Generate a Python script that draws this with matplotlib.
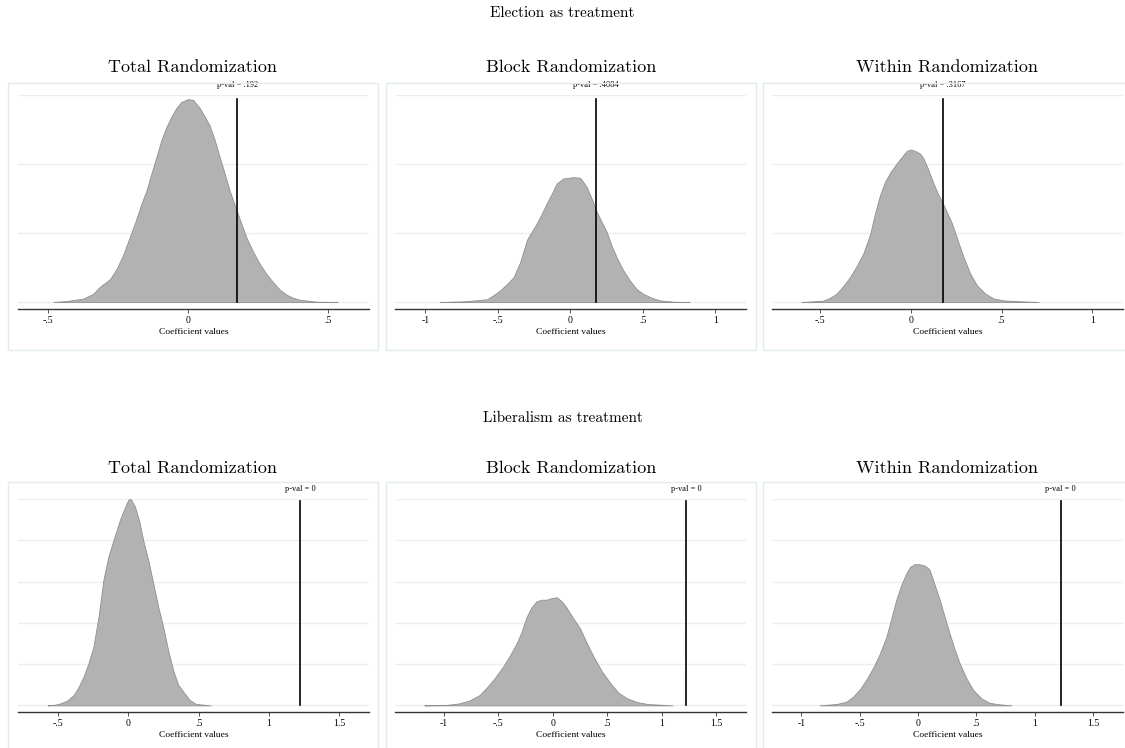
import matplotlib.pyplot as plt
from matplotlib.patches import Rectangle

# --- data ---------------------------------------------------------------
panel_titles = ['Total Randomization', 'Block Randomization', 'Within Randomization']
row_titles = ['Election as treatment', 'Liberalism as treatment']

# density of permuted coefficients: Election as treatment
elec_total_x = [-0.481, -0.434, -0.374, -0.338, -0.315, -0.279, -0.255, -0.232, -0.208, -0.184, -0.166,
                -0.148, -0.131, -0.113, -0.095, -0.077, -0.059, -0.042, -0.024, 0.0, 0.018, 0.042,
                0.059, 0.077, 0.095, 0.113, 0.131, 0.148, 0.175, 0.190, 0.208, 0.232, 0.255, 0.279,
                0.303, 0.327, 0.350, 0.374, 0.398, 0.457, 0.534]
elec_total_y = [0.0, 0.015, 0.05, 0.12, 0.22, 0.33, 0.48, 0.68, 0.94, 1.21, 1.43,
                1.62, 1.86, 2.10, 2.35, 2.54, 2.69, 2.81, 2.90, 2.94, 2.93, 2.81,
                2.69, 2.56, 2.35, 2.10, 1.86, 1.62, 1.31, 1.14, 0.94, 0.73, 0.56, 0.41,
                0.29, 0.18, 0.11, 0.063, 0.034, 0.005, 0.0]

elec_block_x = [-0.901, -0.736, -0.576, -0.530, -0.484, -0.438, -0.392, -0.346, -0.300, -0.266, -0.232,
                -0.197, -0.163, -0.128, -0.094, -0.048, -0.014, 0.021, 0.067, 0.089, 0.112, 0.147,
                0.177, 0.216, 0.250, 0.284, 0.319, 0.365, 0.411, 0.456, 0.502, 0.560, 0.617, 0.709, 0.823]
elec_block_y = [0.0, 0.01, 0.04, 0.10, 0.17, 0.26, 0.36, 0.58, 0.90, 1.02, 1.14,
                1.28, 1.43, 1.57, 1.72, 1.79, 1.80, 1.81, 1.80, 1.74, 1.67, 1.50,
                1.33, 1.16, 1.02, 0.82, 0.65, 0.46, 0.31, 0.19, 0.12, 0.063, 0.024, 0.005, 0.0]

elec_within_x = [-0.602, -0.538, -0.482, -0.446, -0.409, -0.372, -0.335, -0.298, -0.262, -0.225, -0.197,
                 -0.169, -0.142, -0.110, -0.077, -0.050, -0.022, 0.0, 0.024, 0.052, 0.070, 0.098,
                 0.125, 0.153, 0.177, 0.203, 0.227, 0.258, 0.291, 0.328, 0.365, 0.411, 0.457, 0.512,
                 0.567, 0.705]
elec_within_y = [0.0, 0.01, 0.02, 0.06, 0.12, 0.23, 0.36, 0.52, 0.70, 0.97, 1.28,
                 1.55, 1.74, 1.89, 2.01, 2.10, 2.19, 2.21, 2.19, 2.15, 2.08, 1.91,
                 1.72, 1.55, 1.43, 1.28, 1.14, 0.90, 0.65, 0.41, 0.24, 0.12, 0.05, 0.024,
                 0.015, 0.0]

# density of permuted coefficients: Liberalism as treatment
lib_total_x = [-0.573, -0.519, -0.483, -0.436, -0.389, -0.354, -0.318, -0.283, -0.248, -0.212, -0.177,
               -0.142, -0.106, -0.083, -0.059, -0.031, 0.0, 0.017, 0.047, 0.078, 0.106, 0.142,
               0.177, 0.212, 0.248, 0.283, 0.318, 0.354, 0.389, 0.436, 0.483, 0.585]
lib_total_y = [0.0, 0.008, 0.024, 0.057, 0.125, 0.22, 0.35, 0.51, 0.71, 1.07, 1.52,
               1.80, 2.00, 2.12, 2.25, 2.37, 2.49, 2.50, 2.41, 2.23, 2.00, 1.76,
               1.48, 1.20, 0.95, 0.67, 0.43, 0.25, 0.17, 0.065, 0.016, 0.0]

lib_block_x = [-1.178, -0.978, -0.855, -0.763, -0.671, -0.609, -0.532, -0.455, -0.394, -0.332, -0.286,
               -0.240, -0.194, -0.148, -0.102, -0.055, -0.009, 0.037, 0.083, 0.129, 0.191, 0.252,
               0.314, 0.375, 0.452, 0.529, 0.606, 0.683, 0.775, 0.868, 1.098]
lib_block_y = [0.0, 0.004, 0.024, 0.06, 0.125, 0.21, 0.33, 0.47, 0.60, 0.75, 0.89,
               1.07, 1.19, 1.26, 1.28, 1.28, 1.30, 1.31, 1.26, 1.18, 1.05, 0.93,
               0.75, 0.59, 0.41, 0.27, 0.15, 0.085, 0.04, 0.016, 0.0]

lib_within_x = [-0.843, -0.700, -0.614, -0.557, -0.500, -0.443, -0.386, -0.329, -0.271, -0.229, -0.186,
                -0.143, -0.100, -0.066, -0.029, 0.009, 0.043, 0.071, 0.100, 0.143, 0.186, 0.229,
                0.271, 0.314, 0.357, 0.414, 0.471, 0.543, 0.614, 0.700, 0.800]
lib_within_y = [0.0, 0.016, 0.044, 0.105, 0.19, 0.31, 0.45, 0.62, 0.83, 1.05, 1.28,
                1.46, 1.60, 1.68, 1.71, 1.71, 1.70, 1.68, 1.64, 1.46, 1.28, 1.07,
                0.87, 0.68, 0.51, 0.33, 0.19, 0.085, 0.03, 0.012, 0.0]

# observed coefficients and p-values
elec_obs = [0.176, 0.177, 0.176]
elec_pvals = ['p-val = .192', 'p-val = .4084', 'p-val = .3167']
lib_obs = [1.222, 1.223, 1.223]
lib_pvals = ['p-val = 0', 'p-val = 0', 'p-val = 0']

# x ticks
elec_ticks = [[-0.5, 0, 0.5], [-1, -0.5, 0, 0.5, 1], [-0.5, 0, 0.5, 1]]
elec_ticklabels = [['-.5', '0', '.5'], ['-1', '-.5', '0', '.5', '1'], ['-.5', '0', '.5', '1']]
lib_ticks = [[-0.5, 0, 0.5, 1, 1.5], [-1, -0.5, 0, 0.5, 1, 1.5], [-1, -0.5, 0, 0.5, 1, 1.5]]
lib_ticklabels = [['-.5', '0', '.5', '1', '1.5'], ['-1', '-.5', '0', '.5', '1', '1.5'],
                  ['-1', '-.5', '0', '.5', '1', '1.5']]

# y grid lines
elec_grid = [0, 1, 2, 3]
lib_grid = [0, 0.5, 1, 1.5, 2, 2.5]

# --- figure ---------------------------------------------------------------
W, H = 1125, 748
fig = plt.figure(figsize=(W / 100, H / 100), dpi=100)

serif = 'Liberation Serif'
grid_col = '#e8f0f2'
box_col = '#e2ebee'


def px_axes(x0, x1, ytop, ybot):
    return fig.add_axes([x0 / W, 1 - ybot / H, (x1 - x0) / W, (ybot - ytop) / H])


def draw_panel(ax, xs, ys, obs, pval, ticks, labels, xlim, grid, ymin, line_top):
    for g in grid:
        ax.axhline(g, color=grid_col, lw=1.0, zorder=0)
    ax.fill_between(xs, 0, ys, facecolor='#b2b2b2', edgecolor='#8f8f8f', lw=0.6, zorder=2)
    ax.plot([obs, obs], [0, line_top], color='black', lw=1.2, zorder=3)
    ax.text(obs, grid[-1] + (grid[-1] - ymin) * 0.03, pval, ha='center', va='bottom',
            fontsize=6, family=serif, clip_on=False)
    ax.set_xlim(xlim)
    ax.set_ylim(ymin, grid[-1])
    ax.set_xticks(ticks)
    ax.set_xticklabels(labels, family=serif, fontsize=7)
    ax.set_yticks([])
    ax.set_xlabel('Coefficient values', family=serif, fontsize=6.8, labelpad=2.5)
    for s in ['top', 'right', 'left']:
        ax.spines[s].set_visible(False)
    ax.spines['bottom'].set_color('#333333')
    ax.spines['bottom'].set_linewidth(1.0)
    ax.tick_params(axis='x', length=3, width=0.6, color='#333333', pad=2)
    ax.patch.set_alpha(0)


cols = [(18, 369), (395, 745.7), (772, 1123)]
boxes_x = [(8, 378), (386, 756), (763, 1130)]

# row 1: Election
elec_data = [(elec_total_x, elec_total_y), (elec_block_x, elec_block_y), (elec_within_x, elec_within_y)]
elec_xlim = [(-0.607, 0.646), (-1.21, 1.21), (-0.764, 1.169)]
for i in range(3):
    bx0, bx1 = boxes_x[i]
    fig.patches.append(Rectangle((bx0 / W, 1 - 350 / H), (bx1 - bx0) / W, (350 - 83) / H,
                                 transform=fig.transFigure, fill=False, edgecolor=box_col, lw=1.0))
    ax = px_axes(cols[i][0], cols[i][1], 95, 309)
    draw_panel(ax, elec_data[i][0], elec_data[i][1], elec_obs[i], elec_pvals[i],
               elec_ticks[i], elec_ticklabels[i], elec_xlim[i], elec_grid, -0.101, 2.94)
    fig.text((bx0 + bx1) / 2 / W, 1 - 67 / H, panel_titles[i], ha='center', va='center',
             family='cmr10', fontsize=13)

# row 2: Liberalism
lib_data = [(lib_total_x, lib_total_y), (lib_block_x, lib_block_y), (lib_within_x, lib_within_y)]
lib_xlim = [(-0.784, 1.711), (-1.447, 1.771), (-1.251, 1.757)]
for i in range(3):
    bx0, bx1 = boxes_x[i]
    fig.patches.append(Rectangle((bx0 / W, 1 - 770 / H), (bx1 - bx0) / W, (770 - 482) / H,
                                 transform=fig.transFigure, fill=False, edgecolor=box_col, lw=1.0))
    ax = px_axes(cols[i][0], cols[i][1], 499, 711.7)
    draw_panel(ax, lib_data[i][0], lib_data[i][1], lib_obs[i], lib_pvals[i],
               lib_ticks[i], lib_ticklabels[i], lib_xlim[i], lib_grid, -0.077, 2.47)
    fig.text((bx0 + bx1) / 2 / W, 1 - 468 / H, panel_titles[i], ha='center', va='center',
             family='cmr10', fontsize=13)

fig.text(0.5, 1 - 13 / H, row_titles[0], ha='center', va='center', family='cmr10', fontsize=11)
fig.text(0.5, 1 - 418 / H, row_titles[1], ha='center', va='center', family='cmr10', fontsize=11)

fig.savefig('out.png', dpi=100)
